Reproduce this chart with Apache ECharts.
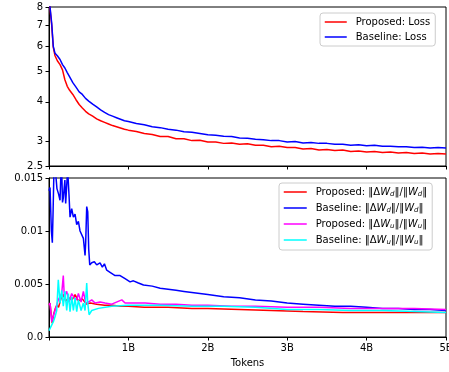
<!DOCTYPE html>
<html><head><meta charset="utf-8">
<script src="https://cdn.jsdelivr.net/npm/echarts@6/dist/echarts.min.js"></script>
<style>html,body{margin:0;padding:0;background:#fff}#c{width:449px;height:372px}</style>
</head><body><div id="c"></div>
<script>
// ---- Data (tokens in billions) ----
const lossX = [0.005,0.013,0.034,0.054,0.076,0.105,0.139,0.17,0.2,0.23,0.26,0.3,0.34,0.38,0.42,0.46,0.5,0.55,0.6,0.65,0.7,0.75,0.8,0.85,0.9,0.95,
  1.0,1.1,1.2,1.3,1.4,1.5,1.6,1.7,1.8,1.9,2.0,2.1,2.2,2.3,2.4,2.5,2.6,2.7,2.8,2.9,3.0,3.1,3.2,3.3,3.4,3.5,3.6,3.7,3.8,3.9,4.0,4.1,4.2,4.3,4.4,4.5,4.6,4.7,4.8,4.9,5.0];
const lossProposed = [8.5,7.9,7.0,5.95,5.6,5.4,5.25,5.05,4.7,4.48,4.35,4.22,4.06,3.92,3.82,3.73,3.66,3.6,3.53,3.48,3.44,3.4,3.36,3.33,3.3,3.27,
  3.25,3.22,3.17,3.15,3.10,3.10,3.05,3.05,3.01,3.02,2.98,2.98,2.95,2.96,2.93,2.94,2.91,2.91,2.88,2.89,2.86,2.86,2.83,2.84,2.81,2.82,2.80,2.81,2.78,2.79,2.77,2.78,2.76,2.77,2.75,2.76,2.74,2.75,2.73,2.74,2.73];
const lossBaseline = [8.6,8.0,7.1,6.0,5.7,5.6,5.45,5.25,5.12,4.95,4.8,4.6,4.45,4.3,4.22,4.1,4.02,3.93,3.85,3.77,3.7,3.64,3.6,3.56,3.52,3.48,
  3.46,3.41,3.38,3.33,3.31,3.27,3.25,3.21,3.20,3.17,3.14,3.13,3.11,3.10,3.07,3.06,3.04,3.03,3.01,3.01,2.98,2.99,2.96,2.97,2.95,2.95,2.93,2.93,2.91,2.92,2.90,2.91,2.89,2.89,2.88,2.88,2.86,2.87,2.85,2.86,2.85];

const wdBaseX = [0.0,0.013,0.03,0.042,0.052,0.063,0.08,0.1,0.12,0.139,0.15,0.16,0.17,0.18,0.2,0.21,0.22,0.235,0.252,0.265,0.286,0.307,0.328,0.349,0.37,0.391,0.412,0.433,0.454,0.462,0.475,0.488,0.5,0.513,0.538,0.571,0.601,0.643,0.672,0.698,0.727,0.769,0.832,0.895,0.958,1.021,1.063,1.126,1.19,
  1.3,1.4,1.5,1.6,1.7,1.8,1.9,2.0,2.2,2.4,2.6,2.8,3.0,3.2,3.4,3.6,3.8,4.0,4.2,4.4,4.6,4.8,5.0];
const wdBaseY = [0.0138,0.0141,0.0100,0.0089,0.0120,0.0160,0.0158,0.0140,0.0135,0.0129,0.0155,0.0158,0.0127,0.0131,0.0148,0.0126,0.0139,0.0158,0.0134,0.0113,0.0121,0.0113,0.0116,0.0106,0.0109,0.0100,0.0101,0.0093,0.0077,0.0089,0.0123,0.0118,0.0083,0.0068,0.0070,0.0071,0.0068,0.0070,0.0066,0.0069,0.0063,0.0061,0.0058,0.0058,0.0055,0.0052,0.0053,0.0051,0.0049,
  0.0048,0.0046,0.0045,0.0044,0.0043,0.0042,0.0041,0.0040,0.0038,0.0037,0.0035,0.0034,0.0032,0.0031,0.0030,0.0029,0.0029,0.0028,0.0027,0.0027,0.0026,0.0026,0.0025];

const wdPropX = [0.0,0.013,0.025,0.04,0.06,0.08,0.1,0.12,0.15,0.18,0.21,0.25,0.29,0.328,0.37,0.42,0.47,0.52,0.6,0.7,0.8,0.9,1.0,1.2,1.5,1.8,2.0,2.4,2.8,3.2,3.7,4.2,4.6,5.0];
const wdPropY = [0.0030,0.0032,0.0023,0.0013,0.0022,0.0027,0.0030,0.0028,0.0036,0.0040,0.0034,0.0037,0.0035,0.0040,0.0034,0.0036,0.0031,0.0032,0.0031,0.0030,0.0030,0.0029,0.0029,0.0028,0.0028,0.0027,0.0027,0.0026,0.0025,0.0024,0.0023,0.0023,0.0023,0.0023];

const wuPropX = [0.0,0.013,0.034,0.055,0.076,0.117,0.16,0.18,0.193,0.223,0.252,0.286,0.319,0.349,0.37,0.404,0.433,0.462,0.496,0.538,0.58,0.643,0.706,0.79,0.917,0.958,1.08,1.21,1.4,1.6,1.8,2.0,2.3,2.6,3.0,3.4,3.8,4.2,4.6,5.0];
const wuPropY = [0.0030,0.0032,0.00145,0.0020,0.0025,0.0035,0.0041,0.0058,0.0038,0.0043,0.0033,0.0041,0.0037,0.0035,0.0041,0.0033,0.0043,0.0032,0.0033,0.0035,0.0032,0.0033,0.0032,0.0031,0.0035,0.0032,0.0032,0.0032,0.0031,0.0031,0.0030,0.0030,0.0029,0.0029,0.0028,0.0028,0.0027,0.0027,0.0027,0.0026];

const wuBaseX = [0.0,0.013,0.055,0.076,0.097,0.117,0.139,0.16,0.18,0.202,0.223,0.243,0.265,0.286,0.307,0.328,0.349,0.37,0.404,0.433,0.454,0.475,0.488,0.505,0.538,0.622,0.79,1.0,1.2,1.4,1.8,2.2,2.6,3.0,3.4,3.8,4.2,4.6,5.0];
const wuBaseY = [0.0006,0.00066,0.00145,0.0019,0.0025,0.0054,0.0032,0.0044,0.0029,0.0043,0.0025,0.0041,0.0024,0.0038,0.0025,0.0037,0.0024,0.0035,0.0025,0.0032,0.0025,0.0051,0.0032,0.0021,0.0025,0.0027,0.0029,0.0030,0.0030,0.0030,0.0029,0.0029,0.0028,0.0026,0.0026,0.0025,0.0025,0.0024,0.0023];

const xTickValues = [1,2,3,4,5];
const lossTicks = [2.5,3,4,5,6,7,8];
const ratioTicks = [0,0.005,0.01,0.015];
const ratioLabels = ['0.0','0.005','0.01','0.015'];

const richNames = {
  'Proposed: Wd': '{n|Proposed: ‖Δ}{w|W}{s|d}{n|‖/‖}{w|W}{s|d}{n|‖}',
  'Baseline: Wd': '{n|Baseline: ‖Δ}{w|W}{s|d}{n|‖/‖}{w|W}{s|d}{n|‖}',
  'Proposed: Wu': '{n|Proposed: ‖Δ}{w|W}{s|u}{n|‖/‖}{w|W}{s|u}{n|‖}',
  'Baseline: Wu': '{n|Baseline: ‖Δ}{w|W}{s|u}{n|‖/‖}{w|W}{s|u}{n|‖}'
};

function pairs(xs, ys){ return xs.map((x,i)=>[x, ys[i]]); }

const FONT = 'DejaVu Sans';
const axisCommon = {
  axisLine: {show:true, lineStyle:{color:'#000', width:1}},
  axisTick: {show:true, inside:false, length:3.5, lineStyle:{color:'#000', width:1}},
  splitLine: {show:false},
};

function lineSeries(name, data, color, xi, yi){
  return {name, type:'line', data, xAxisIndex:xi, yAxisIndex:yi, symbol:'none', showSymbol:false,
    lineStyle:{color, width:1.5}, itemStyle:{color}, animation:false, clip:true};
}

const chart = echarts.init(document.getElementById('c'), null, {renderer:'canvas'});
chart.setOption({
  animation:false,
  backgroundColor:'#fff',
  textStyle:{fontFamily:FONT},
  grid:[
    {left:49, right:3, top:7, height:159, show:true, borderColor:'#000', borderWidth:1, backgroundColor:'transparent', containLabel:false, outerBoundsMode:'none'},
    {left:49, right:3, top:178, height:159, show:true, borderColor:'#000', borderWidth:1, backgroundColor:'transparent', containLabel:false, outerBoundsMode:'none'}
  ],
  xAxis:[
    Object.assign({type:'value', gridIndex:0, min:0, max:5, interval:1,
      axisLabel:{show:false}}, axisCommon),
    Object.assign({type:'value', gridIndex:1, min:0, max:5, interval:1,
      name:'Tokens', nameLocation:'middle', nameGap:21,
      nameTextStyle:{fontFamily:FONT, fontSize:10, color:'#000'},
      axisLabel:{show:true, margin:6, fontFamily:FONT, fontSize:10, color:'#000', showMaxLabel:true, showMinLabel:true,
        alignMaxLabel:'center', alignMinLabel:'center', hideOverlap:false,
        formatter:(v)=> xTickValues.indexOf(Math.round(v))>=0 && Math.abs(v-Math.round(v))<1e-9 ? Math.round(v)+'B' : ''}}, axisCommon)
  ],
  yAxis:[
    Object.assign({type:'log', logBase:10, gridIndex:0, min:2.5, max:8,
      axisLabel:{show:true, margin:6, fontFamily:FONT, fontSize:10, color:'#000', customValues:lossTicks,
        formatter:(v)=> String(Math.round(v*10)/10)}}, axisCommon,
      {axisTick:{show:true, inside:false, length:3.5, lineStyle:{color:'#000', width:1}, customValues:lossTicks}, minorTick:{show:false}}),
    Object.assign({type:'value', gridIndex:1, min:0, max:0.015, interval:0.005,
      axisLabel:{show:true, margin:6, fontFamily:FONT, fontSize:10, color:'#000',
        formatter:(v)=>{ for(let i=0;i<ratioTicks.length;i++){ if(Math.abs(v-ratioTicks[i])<1e-9) return ratioLabels[i]; } return ''; }}}, axisCommon)
  ],
  legend:[
    {data:['Proposed: Loss','Baseline: Loss'], orient:'vertical', left:320, top:13,
      padding:[4,5,4,4], itemWidth:22, itemHeight:10, itemGap:5,
      itemStyle:{opacity:0}, lineStyle:{width:1.5},
      backgroundColor:'rgba(255,255,255,0.8)', borderColor:'#cccccc', borderWidth:1, borderRadius:3,
      textStyle:{fontFamily:FONT, fontSize:10, color:'#000', padding:[0,0,0,4]}},
    {data:['Proposed: Wd','Baseline: Wd','Proposed: Wu','Baseline: Wu'], orient:'vertical', left:279, top:183,
      padding:[4,5,4,4], itemWidth:23, itemHeight:12, itemGap:5,
      itemStyle:{opacity:0}, lineStyle:{width:1.5},
      backgroundColor:'rgba(255,255,255,0.8)', borderColor:'#cccccc', borderWidth:1, borderRadius:3,
      formatter:(n)=> richNames[n] || n,
      textStyle:{fontFamily:FONT, fontSize:10, color:'#000', padding:[0,0,0,4],
        rich:{
          n:{fontFamily:FONT, fontSize:10, color:'#000', lineHeight:12},
          w:{fontFamily:FONT, fontSize:10, fontStyle:'italic', color:'#000', lineHeight:12},
          s:{fontFamily:FONT, fontSize:7, fontStyle:'italic', color:'#000', lineHeight:12, verticalAlign:'bottom'}
        }}}
  ],
  series:[
    lineSeries('Proposed: Loss', pairs(lossX, lossProposed), '#ff0000', 0, 0),
    lineSeries('Baseline: Loss', pairs(lossX, lossBaseline), '#0000ff', 0, 0),
    lineSeries('Proposed: Wd', pairs(wdPropX, wdPropY), '#ff0000', 1, 1),
    lineSeries('Baseline: Wd', pairs(wdBaseX, wdBaseY), '#0000ff', 1, 1),
    lineSeries('Proposed: Wu', pairs(wuPropX, wuPropY), '#ff00ff', 1, 1),
    lineSeries('Baseline: Wu', pairs(wuBaseX, wuBaseY), '#00ffff', 1, 1)
  ]
});
</script>
</body></html>
